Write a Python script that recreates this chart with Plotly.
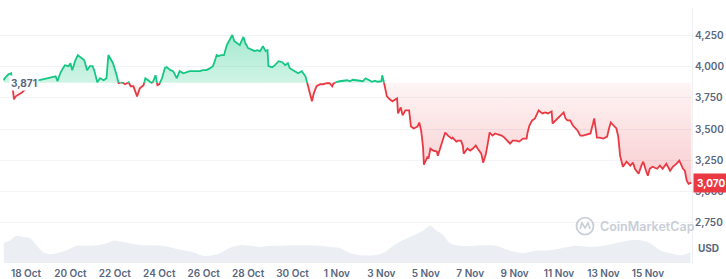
import numpy as np
import pandas as pd
import plotly.graph_objects as go

# ---------------- data ----------------
start = pd.Timestamp("2025-10-17 00:00")
baseline_price = 3871
last_price = 3070

hours = [0, 1, 5, 8, 10, 11, 13, 16, 20, 24, 28, 30, 32, 37, 42, 48, 53, 56, 58, 61,
         64, 66, 70, 72, 74, 77, 80, 84, 87, 90, 93, 96, 98, 101,
         104, 108, 111, 113, 115, 117, 118, 122, 124, 128, 131, 135, 137, 140, 144, 147,
         151, 153, 156, 160, 161, 164, 166, 168, 171, 174, 176, 180, 183, 187, 190, 194,
         198, 201, 204, 209, 212, 215, 219, 223, 226, 228, 230, 232, 235, 238, 241, 244,
         247, 249, 252, 255, 257, 259, 261,
         264, 269, 271, 274, 277, 280, 283, 285, 286, 290, 293, 297, 301, 304, 307, 309,
         313, 315, 318, 322, 326, 328, 329, 331, 333, 335, 338, 342, 345, 349, 352, 355,
         356, 360, 363, 366, 371, 374, 377, 381, 385, 388, 391, 393, 398, 401, 404, 408,
         409, 411, 414, 417, 420,
         425, 426, 429, 431, 434, 436, 438, 440, 443, 447, 449, 451, 453, 454, 458, 459,
         461, 464, 468, 469, 472, 475, 477, 480, 484, 485, 489, 491, 494, 496, 497, 501,
         504, 507, 510, 512, 516, 518, 521, 523, 525, 528, 531, 534, 538, 541, 544, 547,
         550, 554, 557, 561, 565, 566, 568, 571, 574, 576, 578,
         582, 585, 588, 592, 593, 595, 598, 601, 605, 607, 609, 612, 615, 620, 623, 626,
         630, 634, 637, 638, 641, 644, 648, 652, 654, 656, 658, 662, 664, 666, 669, 671,
         673, 677, 680, 682, 684, 686, 689, 691, 694, 696, 698, 701, 706, 709, 712, 716,
         720, 723, 727, 730, 734, 736, 738, 740, 743]

prices = [3891, 3907, 3939, 3947, 3786, 3738, 3762, 3778, 3794, 3827, 3843, 3875, 3891, 3891, 3899, 3907, 3915, 3923, 3883, 3947,
          3988, 4012, 4004, 4028, 3972, 4044, 4093, 4068, 4052, 3972, 4004, 4004, 3964, 3875,
          3907, 3891, 3907, 4093, 4068, 4044, 4028, 3931, 3867, 3875, 3859, 3875, 3843, 3843, 3762, 3827,
          3851, 3907, 3891, 3867, 3875, 3931, 3851, 3859, 3907, 3988, 3996, 3972, 3964, 3907, 3964, 3947,
          3956, 3964, 3964, 3964, 3964, 3972, 3972, 3988, 4004, 4044, 4093, 4085, 4093, 4093, 4173, 4214,
          4254, 4206, 4189, 4173, 4206, 4238, 4189,
          4149, 4133, 4125, 4133, 4125, 4165, 4125, 4133, 4004, 3996, 4012, 4044, 4036, 4012, 4028, 3988,
          3972, 3964, 3947, 3964, 3923, 3867, 3827, 3786, 3722, 3786, 3843, 3859, 3859, 3867, 3867, 3843,
          3863, 3879, 3883, 3887, 3891, 3883, 3895, 3891, 3887, 3883, 3907, 3899, 3879, 3887, 3879, 3883,
          3931, 3867, 3762, 3738, 3722,
          3746, 3625, 3673, 3609, 3649, 3649, 3649, 3520, 3504, 3520, 3552, 3488, 3359, 3214, 3278, 3262,
          3343, 3327, 3319, 3286, 3359, 3423, 3472, 3447, 3423, 3431, 3399, 3407, 3407, 3367, 3302, 3343,
          3327, 3343, 3367, 3343, 3302, 3230, 3302, 3383, 3472, 3447, 3464, 3456, 3447, 3431, 3407, 3383,
          3407, 3407, 3399, 3423, 3423, 3472, 3528, 3569, 3585, 3625, 3649,
          3625, 3633, 3625, 3641, 3544, 3560, 3577, 3601, 3633, 3585, 3569, 3569, 3528, 3488, 3447, 3447,
          3456, 3464, 3552, 3585, 3431, 3431, 3423, 3439, 3504, 3552, 3536, 3504, 3439, 3286, 3197, 3222,
          3238, 3206, 3230, 3181, 3165, 3141, 3206, 3238, 3165, 3125, 3181, 3197, 3181, 3206, 3181, 3222,
          3165, 3197, 3222, 3246, 3181, 3165, 3085, 3060, 3070]

vol_hours = [0, 7, 14, 21, 28, 36, 42, 50, 58, 68, 79, 90, 101, 112, 118, 129, 140, 150, 161, 172,
             183, 194, 204, 215, 223, 234, 244, 255, 266, 277, 288, 299, 309, 320, 331, 342, 353, 363,
             374, 385, 399, 410, 421, 431, 442, 453, 461, 467, 475, 482, 493, 504, 518, 532, 547, 561,
             575, 590, 604, 618, 634, 648, 662, 677, 688, 698, 709, 720, 731, 742]
volume_bn = [36, 41, 49, 47, 45, 31, 20, 16, 18, 23, 31, 31, 32, 36, 40, 38, 34, 32, 32, 31,
             27, 23, 20, 13, 13, 18, 27, 32, 31, 29, 31, 31, 32, 32, 32, 31, 29, 27,
             18, 14, 14, 18, 31, 41, 49, 58, 67, 59, 50, 36, 31, 31, 32, 31, 22, 18,
             22, 23, 27, 31, 29, 31, 36, 41, 41, 36, 23, 18, 14, 20]

y_ticks = [2750, 3000, 3250, 3500, 3750, 4000, 4250]
x_tick_start = "2025-10-18"

GREEN = "#16c784"
RED = "#ea3943"
GREY_TXT = "#58667e"

# ---------------- derived series ----------------
t = [start + pd.Timedelta(hours=h) for h in hours]
vt = [start + pd.Timedelta(hours=h) for h in vol_hours]

# insert baseline crossing points so colours switch exactly at the baseline
T, P = [t[0]], [prices[0]]
for i in range(1, len(prices)):
    p0, p1 = prices[i - 1], prices[i]
    if (p0 - baseline_price) * (p1 - baseline_price) < 0:
        f = (baseline_price - p0) / (p1 - p0)
        T.append(t[i - 1] + (t[i] - t[i - 1]) * f)
        P.append(baseline_price)
    T.append(t[i])
    P.append(p1)
P = np.array(P, dtype=float)
upper = np.maximum(P, baseline_price)
lower = np.minimum(P, baseline_price)
green_line = [p if p >= baseline_price else None for p in P]
red_line = [p if p <= baseline_price else None for p in P]
base_arr = [baseline_price] * len(P)

fig = go.Figure()

# volume
fig.add_trace(go.Scatter(x=vt, y=volume_bn, yaxis="y2", mode="lines", line=dict(width=0, shape="spline"),
                         fill="tozeroy", fillcolor="rgba(222,227,235,0.6)", hoverinfo="skip"))

# green fill
fig.add_trace(go.Scatter(x=T, y=base_arr, mode="lines", line=dict(width=0), hoverinfo="skip"))
fig.add_trace(go.Scatter(x=T, y=upper, mode="lines", line=dict(width=0), fill="tonexty",
                         fillgradient=dict(type="vertical", start=baseline_price, stop=4260,
                                           colorscale=[[0, "rgba(22,199,132,0.2)"], [1, "rgba(22,199,132,0.38)"]]),
                         hoverinfo="skip"))
# red fill
fig.add_trace(go.Scatter(x=T, y=base_arr, mode="lines", line=dict(width=0), hoverinfo="skip"))
fig.add_trace(go.Scatter(x=T, y=lower, mode="lines", line=dict(width=0), fill="tonexty",
                         fillgradient=dict(type="vertical", start=3050, stop=baseline_price,
                                           colorscale=[[0, "rgba(234,57,67,0.26)"], [1, "rgba(234,57,67,0.05)"]]),
                         hoverinfo="skip"))
# lines
fig.add_trace(go.Scatter(x=T, y=green_line, mode="lines", line=dict(color=GREEN, width=1.8),
                         connectgaps=False))
fig.add_trace(go.Scatter(x=T, y=red_line, mode="lines", line=dict(color=RED, width=1.8),
                         connectgaps=False))

font_axis = dict(family="Inter", size=10, color=GREY_TXT, weight=600)

fig.update_layout(
    width=726, height=279,
    margin=dict(l=0, r=34, t=8, b=16, autoexpand=False),
    paper_bgcolor="white", plot_bgcolor="white",
    showlegend=False,
    font=dict(family="Inter"),
    xaxis=dict(type="date", range=["2025-10-16 19:54", "2025-11-16 23:42"],
               tick0=x_tick_start, dtick=2 * 86400000, tickformat="%-d %b",
               showgrid=False, zeroline=False, showline=False, ticks="",
               ticklabelstandoff=3, tickfont=font_axis),
    yaxis=dict(side="right", range=[2425.1, 4470.6], tickvals=y_ticks, tickformat=",",
               showgrid=True, gridcolor="#f1f3f6", gridwidth=1, zeroline=False,
               showline=True, linecolor="#eef0f3", linewidth=1, ticks="",
               tickfont=font_axis),
    yaxis2=dict(overlaying="y", range=[0, 459], visible=False),
)

fig.add_annotation(x=0.013, xref="paper", xanchor="left", y=baseline_price, yref="y",
                   text=f"{baseline_price:,}", showarrow=False, bgcolor="white", borderpad=1,
                   font=dict(family="Inter", size=10, color=GREY_TXT, weight=700))
fig.add_annotation(x=1, xref="paper", xanchor="left", xshift=1, y=last_price, yref="y",
                   text=f"<b>{last_price:,}</b>", showarrow=False, bgcolor=RED, borderpad=3,
                   font=dict(family="Inter", size=10, color="white"))
fig.add_annotation(x=1, xref="paper", xanchor="left", xshift=4, y=0.027, yref="paper",
                   text="USD", showarrow=False,
                   font=dict(family="Inter", size=10, color=GREY_TXT, weight=700))
# watermark
wm_y = 0.145
fig.add_annotation(x=0.864, xref="paper", xanchor="left", y=wm_y, yref="paper", yanchor="middle",
                   text="CoinMarketCap", showarrow=False,
                   font=dict(family="Inter", size=12.5, color="#c9ced8", weight=600))
fig.add_shape(type="circle", xref="paper", yref="paper", xsizemode="pixel", ysizemode="pixel",
              xanchor=0.8454, yanchor=wm_y, x0=-8.5, x1=8.5, y0=-8.5, y1=8.5,
              line=dict(color="#c9ced8", width=1.8))
fig.add_shape(type="path", xref="paper", yref="paper", xsizemode="pixel", ysizemode="pixel",
              xanchor=0.8454, yanchor=wm_y,
              path="M -5,-3 L -3,3 L 0,-2 L 3,3 L 5,-3",
              line=dict(color="#c9ced8", width=1.6))

fig.write_html("out.html")
